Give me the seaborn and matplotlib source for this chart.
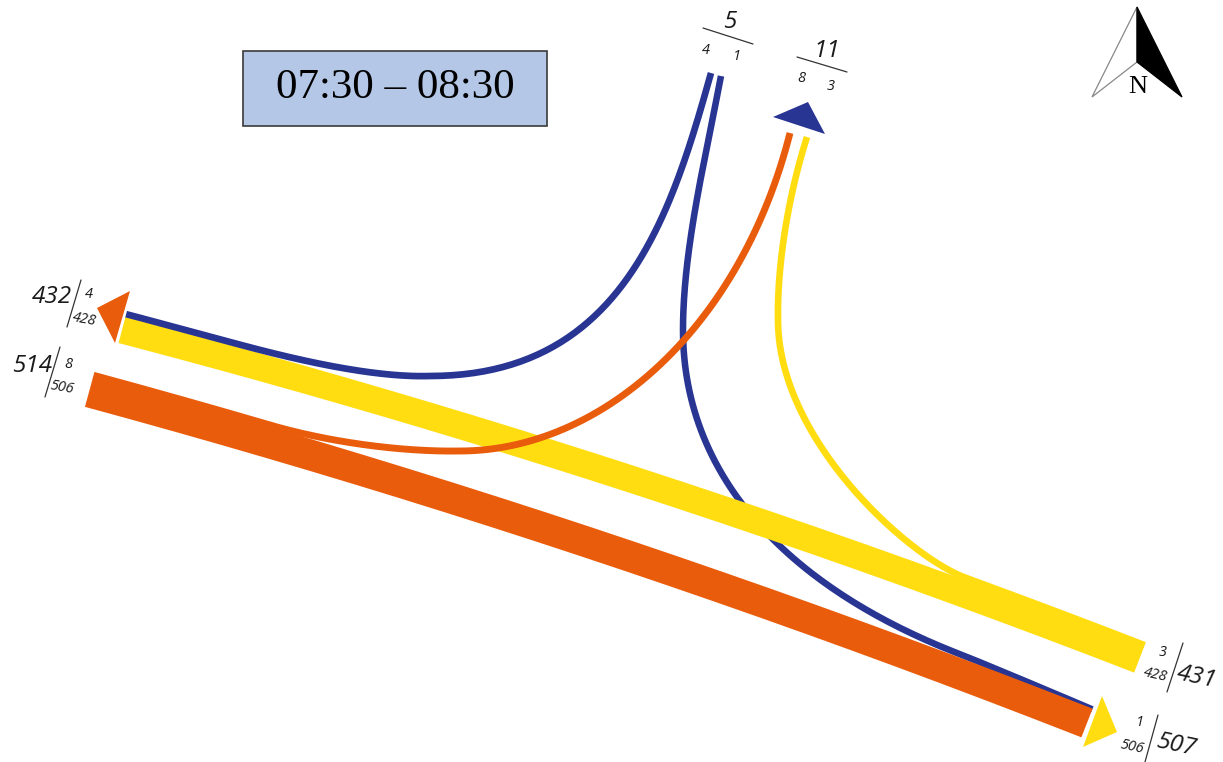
import numpy as np
import matplotlib
matplotlib.use("Agg")
import matplotlib.pyplot as plt
import seaborn as sns
from matplotlib.patches import Polygon, Rectangle

# ---------------- data ----------------
time_label = "07:30 – 08:30"
flow_names = ["N-W", "N-E", "W-N", "W-E", "E-N", "E-W"]
flow_values = [4, 1, 8, 506, 3, 428]
flow_colors = ["#283593", "#283593", "#E95C0C", "#E95C0C", "#FFDD11", "#FFDD11"]
north_label = "N"

v = dict(zip(flow_names, flow_values))
north_in = v["N-W"] + v["N-E"]      # 5
north_out = v["W-N"] + v["E-N"]     # 11
west_out = v["N-W"] + v["E-W"]      # 432
west_in = v["W-N"] + v["W-E"]       # 514
east_in = v["E-N"] + v["E-W"]       # 431
east_out = v["N-E"] + v["W-E"]      # 507


# ---------------- geometry helpers (pixel space) ----------------
def width_px(val):
    return 6.5 + 0.048 * val


def bez(ctrl, t):
    pts = np.array(ctrl, dtype=float)
    t = np.atleast_1d(np.asarray(t, dtype=float))[:, None]
    cur = [np.repeat(pts[i][None, :], len(t), 0) for i in range(len(pts))]
    while len(cur) > 1:
        cur = [(1 - t) * cur[i] + t * cur[i + 1] for i in range(len(cur) - 1)]
    return cur[0]


def tangent(ctrl, t):
    t = np.atleast_1d(np.asarray(t, dtype=float))
    d = bez(ctrl, np.clip(t + 1e-4, 0, 1)) - bez(ctrl, np.clip(t - 1e-4, 0, 1))
    return d / np.linalg.norm(d, axis=1)[:, None]


def up_normal(d):
    n = np.column_stack([d[:, 1], -d[:, 0]])
    flip = n[:, 1] > 0
    n[flip] *= -1
    return n


def t_at_x(ctrl, x):
    ts = np.linspace(0, 1, 2001)
    xs = bez(ctrl, ts)[:, 0]
    order = np.argsort(xs)
    return float(np.interp(x, xs[order], ts[order]))


def offset_curve(ctrl, t0, t1, off0, off1, n=120):
    ts = np.linspace(t0, t1, n)
    offs = np.linspace(off0, off1, n)[:, None]
    return bez(ctrl, ts) + up_normal(tangent(ctrl, ts)) * offs


def point_dir(ctrl, t, off):
    p = offset_curve(ctrl, t, t, off, off, n=1)[0]
    return p, tangent(ctrl, t)[0]


# main bands (quadratic centre lines)
O_band = [(89, 392), (587, 527), (1087, 723)]     # west -> east
Y_band = [(1139, 660), (631, 463), (122, 330)]    # east -> west
wO, wY = width_px(v["W-E"]), width_px(v["E-W"])

paths = {}
paths["W-E"] = bez(O_band, np.linspace(0, 1, 200))
paths["E-W"] = bez(Y_band, np.linspace(0, 1, 200))

# west -> north (leaves orange band)
offWN = wO / 2 + width_px(v["W-N"]) / 2 - 1.5
tW = t_at_x(O_band, 265)
M, d = point_dir(O_band, tW, offWN)
paths["W-N"] = np.vstack([
    offset_curve(O_band, 0, tW, offWN, offWN),
    bez([M, M + d * 60, (400, 452), (460, 451)], np.linspace(0, 1, 80)),
    bez([(460, 451), (600, 451), (740, 330), (790, 133)], np.linspace(0, 1, 120)),
])

# east -> north (leaves yellow band)
offEN = wY / 2 + width_px(v["E-N"]) / 2 - 1.0
tE = t_at_x(Y_band, 960)
M, d = point_dir(Y_band, tE, offEN)
paths["E-N"] = np.vstack([
    offset_curve(Y_band, 0, tE, offEN, offEN),
    bez([M, M + d * 60, (778, 440), (778, 320)], np.linspace(0, 1, 100)),
    bez([(778, 320), (777, 260), (790, 190), (807, 137)], np.linspace(0, 1, 80)),
])

# north -> east (joins orange band)
wNE = width_px(v["N-E"])
offNE0 = wO / 2 + wNE / 2
offNE1 = wO / 2 - wNE / 2 + 2.5
tB = t_at_x(O_band, 960)
M, d = point_dir(O_band, tB, offNE0)
paths["N-E"] = np.vstack([
    bez([(721, 76), (705, 160), (683, 250), (683, 330)], np.linspace(0, 1, 80)),
    bez([(683, 330), (683, 470), M - d * 200, M], np.linspace(0, 1, 120)),
    offset_curve(O_band, tB, 1, offNE0, offNE1, n=60),
])

# north -> west (joins yellow band)
offNW = wY / 2 + width_px(v["N-W"]) / 2 - 0.5
tA = t_at_x(Y_band, 224)
M, d = point_dir(Y_band, tA, offNW)
paths["N-W"] = np.vstack([
    bez([(711, 73), (670, 220), (620, 376), (430, 376)], np.linspace(0, 1, 100)),
    bez([(430, 376), (370, 378), M - d * 60, M], np.linspace(0, 1, 80)),
    offset_curve(Y_band, tA, 1, offNW, offNW, n=40),
])

draw_order = ["N-E", "W-E", "E-W", "E-N", "N-W", "W-N"]

heads = [
    ([(773, 117), (808, 102), (825, 134)], "#283593"),
    ([(130, 291), (97, 308), (115, 343)], "#E95C0C"),
    ([(1102, 696), (1117, 732), (1083, 747)], "#FFDD11"),
]

# ---------------- drawing ----------------
sns.set_theme(style="white")
fig = plt.figure(figsize=(12.23, 7.62), dpi=100)
ax = fig.add_axes([0, 0, 1, 1])
ax.set_xlim(0, 1223)
ax.set_ylim(762, 0)
ax.axis("off")

px2pt = 72 / 100
color_of = dict(zip(flow_names, flow_colors))
for z, name in enumerate(draw_order):
    pts = paths[name]
    sns.lineplot(x=pts[:, 0], y=pts[:, 1], sort=False, estimator=None, ax=ax,
                 color=color_of[name], linewidth=width_px(v[name]) * px2pt,
                 solid_capstyle="butt", solid_joinstyle="round", zorder=2 + z)

for verts, c in heads:
    ax.add_patch(Polygon(verts, closed=True, facecolor=c, edgecolor="none", zorder=10))

# time box
ax.add_patch(Rectangle((243, 51), 304, 75, facecolor="#B4C7E7", edgecolor="#3a3a3a",
                       linewidth=1.2, zorder=10))
ax.text(395, 88, time_label, ha="center", va="center", fontsize=31,
        family=["Liberation Serif", "DejaVu Serif"], color="black", zorder=11)

# north arrow
ax.add_patch(Polygon([(1137, 7), (1092, 97), (1137, 62)], closed=True, facecolor="white",
                     edgecolor="#888888", linewidth=0.9, zorder=10))
ax.add_patch(Polygon([(1137, 7), (1137, 62), (1182, 97)], closed=True, facecolor="black",
                     edgecolor="black", linewidth=0.9, zorder=10))
ax.text(1138, 87, north_label, ha="center", va="center", fontsize=19,
        family=["Liberation Serif", "DejaVu Serif"], color="black", zorder=11)

# flow labels
fam = ["Open Sans", "DejaVu Sans"]
big = 17.5
small = 10.5
lab = dict(ha="center", va="center", family=fam, style="italic", color="#1a1a1a", zorder=11)


def sep(x0, y0, x1, y1):
    ax.plot([x0, x1], [y0, y1], color="#333333", linewidth=0.9, zorder=11)


# north approach
ax.text(730, 22, str(north_in), fontsize=big, **lab)
sep(703, 28, 753, 44)
ax.text(706, 50, str(v["N-W"]), fontsize=small, **lab)
ax.text(737, 57, str(v["N-E"]), fontsize=small, **lab)

ax.text(827, 51, str(north_out), fontsize=big, **lab)
sep(797, 57, 847, 72)
ax.text(801, 78, str(v["W-N"]), fontsize=small, **lab)
ax.text(831, 87, str(v["E-N"]), fontsize=small, **lab)

# west approach
ax.text(52, 297, str(west_out), fontsize=big, **lab)
sep(81, 280, 67, 327)
ax.text(89, 294, str(v["N-W"]), fontsize=small, **lab)
ax.text(84, 320, str(v["E-W"]), fontsize=small, rotation=-10, **lab)

ax.text(32, 366, str(west_in), fontsize=big, **lab)
sep(60, 347, 45, 397)
ax.text(68, 364, str(v["W-N"]), fontsize=small, **lab)
ax.text(62, 388, str(v["W-E"]), fontsize=small, rotation=-10, **lab)

# east approach
ax.text(1163, 653, str(v["E-N"]), fontsize=small, **lab)
ax.text(1155, 675, str(v["E-W"]), fontsize=small, rotation=-12, **lab)
sep(1183, 643, 1167, 692)
ax.text(1197, 677, str(east_in), fontsize=big, rotation=-12, **lab)

ax.text(1140, 722, str(v["N-E"]), fontsize=small, **lab)
ax.text(1132, 747, str(v["W-E"]), fontsize=small, rotation=-12, **lab)
sep(1158, 715, 1145, 762)
ax.text(1176, 745, str(east_out), fontsize=big, rotation=-12, **lab)

fig.savefig("out.png", dpi=100, facecolor="white")
